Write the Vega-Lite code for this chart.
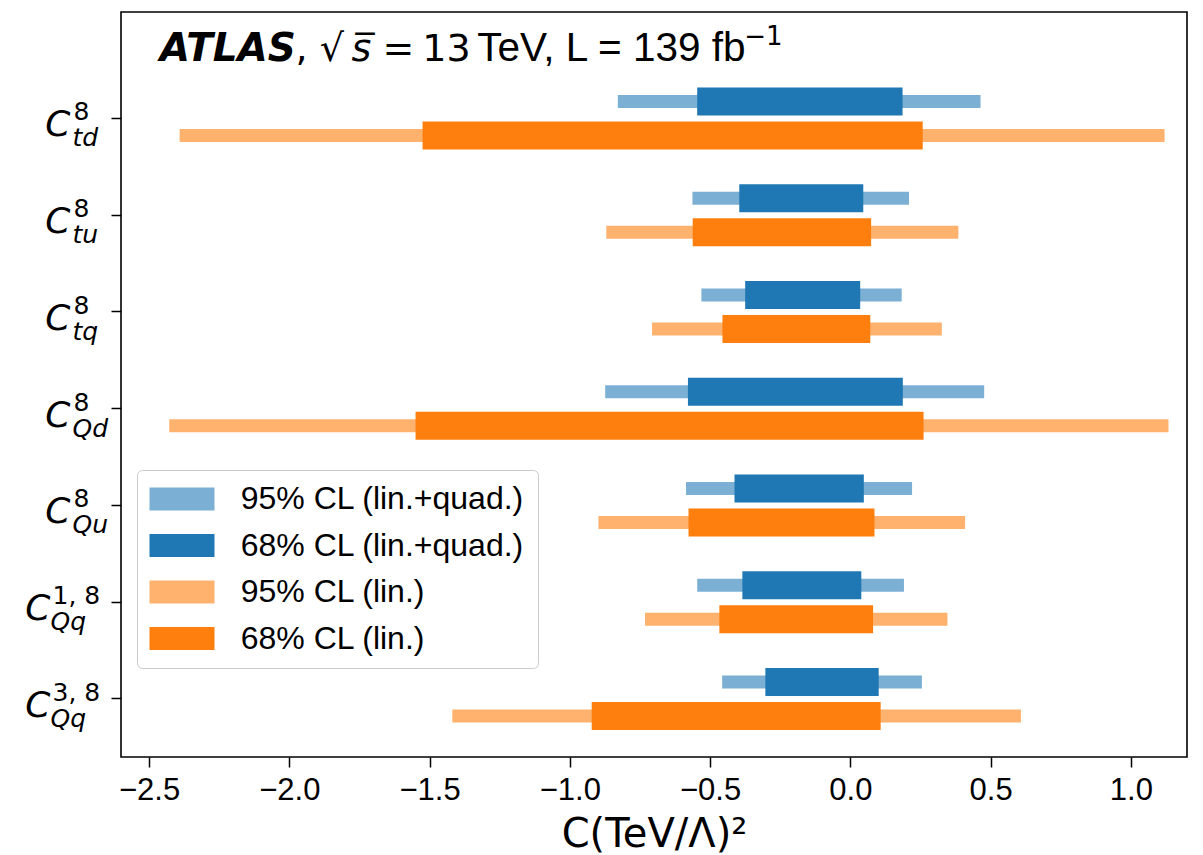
{
  "$schema": "https://vega.github.io/schema/vega-lite/v6.json",
  "width": 1066,
  "height": 745,
  "autosize": {"type": "none"},
  "padding": {"left": 121, "top": 12, "right": 16, "bottom": 98},
  "background": "white",
  "config": {"view": {"stroke": "black", "strokeWidth": 1.6}, "axis": {"grid": false}},
  "data": {"values": [
    {"coef": "C8_td", "fit": "lin.+quad.", "series": "95% CL (lin.+quad.)", "lo": -0.829, "hi": 0.464},
    {"coef": "C8_td", "fit": "lin.+quad.", "series": "68% CL (lin.+quad.)", "lo": -0.546, "hi": 0.186},
    {"coef": "C8_td", "fit": "lin.", "series": "95% CL (lin.)", "lo": -2.391, "hi": 1.120},
    {"coef": "C8_td", "fit": "lin.", "series": "68% CL (lin.)", "lo": -1.525, "hi": 0.258},
    {"coef": "C8_tu", "fit": "lin.+quad.", "series": "95% CL (lin.+quad.)", "lo": -0.563, "hi": 0.209},
    {"coef": "C8_tu", "fit": "lin.+quad.", "series": "68% CL (lin.+quad.)", "lo": -0.396, "hi": 0.046},
    {"coef": "C8_tu", "fit": "lin.", "series": "95% CL (lin.)", "lo": -0.870, "hi": 0.385},
    {"coef": "C8_tu", "fit": "lin.", "series": "68% CL (lin.)", "lo": -0.562, "hi": 0.074},
    {"coef": "C8_tq", "fit": "lin.+quad.", "series": "95% CL (lin.+quad.)", "lo": -0.531, "hi": 0.183},
    {"coef": "C8_tq", "fit": "lin.+quad.", "series": "68% CL (lin.+quad.)", "lo": -0.375, "hi": 0.035},
    {"coef": "C8_tq", "fit": "lin.", "series": "95% CL (lin.)", "lo": -0.707, "hi": 0.326},
    {"coef": "C8_tq", "fit": "lin.", "series": "68% CL (lin.)", "lo": -0.456, "hi": 0.071},
    {"coef": "C8_Qd", "fit": "lin.+quad.", "series": "95% CL (lin.+quad.)", "lo": -0.874, "hi": 0.477},
    {"coef": "C8_Qd", "fit": "lin.+quad.", "series": "68% CL (lin.+quad.)", "lo": -0.579, "hi": 0.187},
    {"coef": "C8_Qd", "fit": "lin.", "series": "95% CL (lin.)", "lo": -2.428, "hi": 1.134},
    {"coef": "C8_Qd", "fit": "lin.", "series": "68% CL (lin.)", "lo": -1.550, "hi": 0.261},
    {"coef": "C8_Qu", "fit": "lin.+quad.", "series": "95% CL (lin.+quad.)", "lo": -0.586, "hi": 0.220},
    {"coef": "C8_Qu", "fit": "lin.+quad.", "series": "68% CL (lin.+quad.)", "lo": -0.413, "hi": 0.048},
    {"coef": "C8_Qu", "fit": "lin.", "series": "95% CL (lin.)", "lo": -0.898, "hi": 0.409},
    {"coef": "C8_Qu", "fit": "lin.", "series": "68% CL (lin.)", "lo": -0.577, "hi": 0.086},
    {"coef": "C18_Qq", "fit": "lin.+quad.", "series": "95% CL (lin.+quad.)", "lo": -0.546, "hi": 0.191},
    {"coef": "C18_Qq", "fit": "lin.+quad.", "series": "68% CL (lin.+quad.)", "lo": -0.385, "hi": 0.039},
    {"coef": "C18_Qq", "fit": "lin.", "series": "95% CL (lin.)", "lo": -0.732, "hi": 0.346},
    {"coef": "C18_Qq", "fit": "lin.", "series": "68% CL (lin.)", "lo": -0.467, "hi": 0.081},
    {"coef": "C38_Qq", "fit": "lin.+quad.", "series": "95% CL (lin.+quad.)", "lo": -0.457, "hi": 0.255},
    {"coef": "C38_Qq", "fit": "lin.+quad.", "series": "68% CL (lin.+quad.)", "lo": -0.303, "hi": 0.101},
    {"coef": "C38_Qq", "fit": "lin.", "series": "95% CL (lin.)", "lo": -1.419, "hi": 0.608},
    {"coef": "C38_Qq", "fit": "lin.", "series": "68% CL (lin.)", "lo": -0.922, "hi": 0.108}
  ]},
  "layer": [
    {
      "transform": [{"filter": "datum.series === '95% CL (lin.+quad.)' && indexof(datum.coef, 'Qq') < 0"}],
      "mark": {"type": "bar", "height": 13},
      "encoding": {
        "y": {"field": "coef", "type": "nominal", "sort": null,
          "scale": {"domain": ["C8_td", "C8_tu", "C8_tq", "C8_Qd", "C8_Qu", "C18_Qq", "C38_Qq"], "paddingInner": 0, "paddingOuter": 0.35, "align": 0.857},
          "axis": {"title": null, "orient": "left", "labelExpr": "indexof(datum.value, 'Qq') >= 0 ? '' : 'C'", "labelFont": "DejaVu Sans", "labelFontStyle": "italic", "labelFontSize": 36, "labelColor": "black", "labelAlign": "right", "labelBaseline": "alphabetic", "labelOffset": 18, "labelPadding": 41, "tickSize": 10, "tickWidth": 1.5, "tickColor": "black", "domain": false, "labelOverlap": false, "labelLimit": 0}},
        "yOffset": {"field": "fit", "type": "nominal", "scale": {"domain": ["lin.+quad.", "lin."], "paddingInner": 0, "paddingOuter": 0.422}},
        "x": {"field": "lo", "type": "quantitative",
          "scale": {"domain": [-2.6, 1.2], "nice": false, "zero": false},
          "axis": {"title": "C(TeV/Λ)²", "titleFont": "DejaVu Sans", "titleFontSize": 40, "titleFontWeight": "normal", "titleColor": "black", "titlePadding": 9,
            "values": [-2.5, -2, -1.5, -1, -0.5, 0, 0.5, 1], "format": ".1f", "labelFont": "Liberation Sans", "labelFontSize": 31, "labelColor": "black", "labelPadding": 8, "tickSize": 10, "tickWidth": 1.5, "tickColor": "black", "domain": false, "labelFlush": false, "labelOverlap": false}},
        "x2": {"field": "hi"},
        "color": {"field": "series", "type": "nominal",
          "scale": {"domain": ["95% CL (lin.+quad.)", "68% CL (lin.+quad.)", "95% CL (lin.)", "68% CL (lin.)"], "range": ["#7bafd4", "#1f77b4", "#ffb26e", "#ff7f0e"]},
          "legend": {"title": null, "orient": "none", "legendX": 16, "legendY": 458, "symbolType": "M-1.435,-1H4.217V1H-1.435Z", "symbolSize": 529, "symbolStrokeWidth": 0, "symbolOpacity": 1, "labelFont": "Liberation Sans", "labelFontSize": 32, "labelColor": "black", "labelOffset": 58.7, "labelLimit": 0, "rowPadding": 14.5, "padding": 13, "strokeColor": "#cccccc", "cornerRadius": 5, "fillColor": "rgba(255,255,255,0.8)"}}
      }
    },
    {
      "transform": [{"filter": "datum.series === '95% CL (lin.+quad.)' && indexof(datum.coef, 'Qq') >= 0"}],
      "mark": {"type": "bar", "height": 13},
      "encoding": {
        "y": {"field": "coef", "type": "nominal", "sort": null,
          "axis": {"title": null, "orient": "left", "labelExpr": "indexof(datum.value, 'Qq') >= 0 ? 'C' : ''", "labelFont": "DejaVu Sans", "labelFontStyle": "italic", "labelFontSize": 36, "labelColor": "black", "labelAlign": "right", "labelBaseline": "alphabetic", "labelOffset": 18, "labelPadding": 71, "ticks": false, "tickSize": 0, "domain": false, "labelOverlap": false, "labelLimit": 0}},
        "yOffset": {"field": "fit", "type": "nominal"},
        "x": {"field": "lo", "type": "quantitative", "axis": null},
        "x2": {"field": "hi"},
        "color": {"field": "series", "type": "nominal"}
      }
    },
    {
      "transform": [{"filter": "datum.series === '95% CL (lin.)' && indexof(datum.coef, 'Qq') < 0"}],
      "mark": {"type": "bar", "height": 13},
      "encoding": {
        "y": {"field": "coef", "type": "nominal", "sort": null,
          "axis": {"title": null, "orient": "left", "labelExpr": "indexof(datum.value, 'Qq') >= 0 ? '' : '8'", "labelFont": "DejaVu Sans", "labelFontSize": 25, "labelColor": "black", "labelAlign": "left", "labelBaseline": "alphabetic", "labelOffset": 2, "labelPadding": 48, "ticks": false, "tickSize": 0, "domain": false, "labelOverlap": false, "labelLimit": 0}},
        "yOffset": {"field": "fit", "type": "nominal"},
        "x": {"field": "lo", "type": "quantitative", "axis": null},
        "x2": {"field": "hi"},
        "color": {"field": "series", "type": "nominal"}
      }
    },
    {
      "transform": [{"filter": "datum.series === '95% CL (lin.)' && indexof(datum.coef, 'Qq') >= 0"}],
      "mark": {"type": "bar", "height": 13},
      "encoding": {
        "y": {"field": "coef", "type": "nominal", "sort": null,
          "axis": {"title": null, "orient": "left", "labelExpr": "datum.value === 'C18_Qq' ? '1, 8' : datum.value === 'C38_Qq' ? '3, 8' : ''", "labelFont": "DejaVu Sans", "labelFontSize": 25, "labelColor": "black", "labelAlign": "left", "labelBaseline": "alphabetic", "labelOffset": 2, "labelPadding": 69, "ticks": false, "tickSize": 0, "domain": false, "labelOverlap": false, "labelLimit": 0}},
        "yOffset": {"field": "fit", "type": "nominal"},
        "x": {"field": "lo", "type": "quantitative", "axis": null},
        "x2": {"field": "hi"},
        "color": {"field": "series", "type": "nominal"}
      }
    },
    {
      "transform": [{"filter": "datum.series === '68% CL (lin.+quad.)' && indexof(datum.coef, 'Qq') < 0"}],
      "mark": {"type": "bar", "height": 28},
      "encoding": {
        "y": {"field": "coef", "type": "nominal", "sort": null,
          "axis": {"title": null, "orient": "left", "labelExpr": "indexof(datum.value, 'Qq') >= 0 ? '' : split(datum.value, '_')[1]", "labelFont": "DejaVu Sans", "labelFontStyle": "italic", "labelFontSize": 25, "labelColor": "black", "labelAlign": "left", "labelBaseline": "alphabetic", "labelOffset": 28, "labelPadding": 49, "ticks": false, "tickSize": 0, "domain": false, "labelOverlap": false, "labelLimit": 0}},
        "yOffset": {"field": "fit", "type": "nominal"},
        "x": {"field": "lo", "type": "quantitative", "axis": null},
        "x2": {"field": "hi"},
        "color": {"field": "series", "type": "nominal"}
      }
    },
    {
      "transform": [{"filter": "datum.series === '68% CL (lin.+quad.)' && indexof(datum.coef, 'Qq') >= 0"}],
      "mark": {"type": "bar", "height": 28},
      "encoding": {
        "y": {"field": "coef", "type": "nominal", "sort": null,
          "axis": {"title": null, "orient": "left", "labelExpr": "indexof(datum.value, 'Qq') >= 0 ? 'Qq' : ''", "labelFont": "DejaVu Sans", "labelFontStyle": "italic", "labelFontSize": 25, "labelColor": "black", "labelAlign": "left", "labelBaseline": "alphabetic", "labelOffset": 28, "labelPadding": 71, "ticks": false, "tickSize": 0, "domain": false, "labelOverlap": false, "labelLimit": 0}},
        "yOffset": {"field": "fit", "type": "nominal"},
        "x": {"field": "lo", "type": "quantitative", "axis": null},
        "x2": {"field": "hi"},
        "color": {"field": "series", "type": "nominal"}
      }
    },
    {
      "transform": [{"filter": "datum.series === '68% CL (lin.)'"}],
      "mark": {"type": "bar", "height": 28},
      "encoding": {
        "y": {"field": "coef", "type": "nominal", "sort": null, "axis": null},
        "yOffset": {"field": "fit", "type": "nominal"},
        "x": {"field": "lo", "type": "quantitative", "axis": null},
        "x2": {"field": "hi"},
        "color": {"field": "series", "type": "nominal"}
      }
    },
    {
      "data": {"values": [{"t": "ATLAS"}]},
      "mark": {"type": "text", "align": "left", "baseline": "alphabetic", "dy": -57, "font": "DejaVu Sans", "fontStyle": "italic", "fontWeight": "bold", "fontSize": 39, "color": "black"},
      "encoding": {"x": {"datum": -2.462, "type": "quantitative", "axis": null}, "y": {"datum": "C8_td", "type": "nominal", "axis": null}, "text": {"field": "t"}}
    },
    {
      "data": {"values": [{"t": ", √"}]},
      "mark": {"type": "text", "align": "left", "baseline": "alphabetic", "dy": -57, "font": "DejaVu Sans", "fontSize": 38, "color": "black"},
      "encoding": {"x": {"datum": -1.978, "type": "quantitative", "axis": null}, "y": {"datum": "C8_td", "type": "nominal", "axis": null}, "text": {"field": "t"}}
    },
    {
      "data": {"values": [{"t": "s̅"}]},
      "mark": {"type": "text", "align": "left", "baseline": "alphabetic", "dy": -57, "font": "DejaVu Sans", "fontStyle": "italic", "fontSize": 38, "color": "black"},
      "encoding": {"x": {"datum": -1.778, "type": "quantitative", "axis": null}, "y": {"datum": "C8_td", "type": "nominal", "axis": null}, "text": {"field": "t"}}
    },
    {
      "data": {"values": [{"t": "="}]},
      "mark": {"type": "text", "align": "left", "baseline": "alphabetic", "dy": -57, "font": "DejaVu Sans", "fontSize": 38, "color": "black"},
      "encoding": {"x": {"datum": -1.668, "type": "quantitative", "axis": null}, "y": {"datum": "C8_td", "type": "nominal", "axis": null}, "text": {"field": "t"}}
    },
    {
      "data": {"values": [{"t": "13"}]},
      "mark": {"type": "text", "align": "left", "baseline": "alphabetic", "dy": -57, "font": "DejaVu Sans", "fontSize": 38, "color": "black"},
      "encoding": {"x": {"datum": -1.526, "type": "quantitative", "axis": null}, "y": {"datum": "C8_td", "type": "nominal", "axis": null}, "text": {"field": "t"}}
    },
    {
      "data": {"values": [{"t": "TeV, L = 139 fb"}]},
      "mark": {"type": "text", "align": "left", "baseline": "alphabetic", "dy": -57, "font": "Liberation Sans", "fontSize": 40.5, "color": "black"},
      "encoding": {"x": {"datum": -1.33, "type": "quantitative", "axis": null}, "y": {"datum": "C8_td", "type": "nominal", "axis": null}, "text": {"field": "t"}}
    },
    {
      "data": {"values": [{"t": "−1"}]},
      "mark": {"type": "text", "align": "left", "baseline": "alphabetic", "dy": -73, "font": "DejaVu Sans", "fontSize": 26, "color": "black"},
      "encoding": {"x": {"datum": -0.378, "type": "quantitative", "axis": null}, "y": {"datum": "C8_td", "type": "nominal", "axis": null}, "text": {"field": "t"}}
    }
  ],
  "resolve": {"axis": {"x": "independent", "y": "independent"}}
}
